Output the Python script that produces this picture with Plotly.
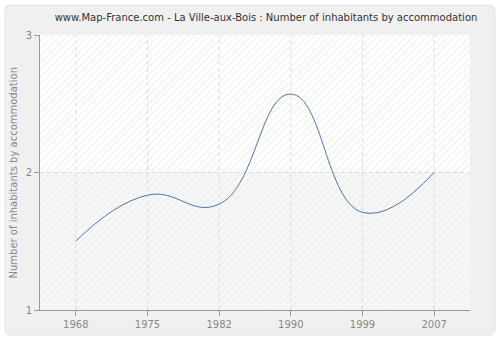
import plotly.graph_objects as go

years = ["1968", "1975", "1982", "1990", "1999", "2007"]
inhabitants = [1.5, 1.835, 1.77, 2.57, 1.71, 2.0]
y_ticks = [1, 2, 3]

xpos = list(range(len(years)))
x_lo, x_hi = -0.5, len(years) - 0.5
y_lo, y_hi = 1, 3

fig = go.Figure()

# hatched plot background, two tones split at the middle gridline
fig.add_trace(go.Scatter(
    x=[x_lo, x_hi, x_hi, x_lo, x_lo], y=[2, 2, y_hi, y_hi, 2],
    fill="toself", mode="none", fillcolor="#ffffff",
    fillpattern=dict(shape="/", fgcolor="#e6e6e6", bgcolor="#ffffff", size=5, solidity=0.3),
    hoverinfo="skip", showlegend=False))
fig.add_trace(go.Scatter(
    x=[x_lo, x_hi, x_hi, x_lo, x_lo], y=[y_lo, y_lo, 2, 2, y_lo],
    fill="toself", mode="none", fillcolor="#f7f7f7",
    fillpattern=dict(shape="/", fgcolor="#e8e8e8", bgcolor="#f7f7f7", size=5, solidity=0.3),
    hoverinfo="skip", showlegend=False))

# dashed gridlines drawn over the hatched background
grid = dict(color="#dddddd", width=1, dash="4px,3px")
for xv in xpos:
    fig.add_trace(go.Scatter(x=[xv, xv], y=[y_lo, y_hi], mode="lines", line=grid,
                             hoverinfo="skip", showlegend=False))
for yv in y_ticks[1:-1]:
    fig.add_trace(go.Scatter(x=[x_lo, x_hi], y=[yv, yv], mode="lines", line=grid,
                             hoverinfo="skip", showlegend=False))

fig.add_trace(go.Scatter(
    x=xpos, y=inhabitants, mode="lines",
    line=dict(color="#4a76ad", width=1, shape="spline", smoothing=1.3),
    showlegend=False))

font = "DejaVu Sans, Verdana, sans-serif"

W, H = 500, 340
pl, pr, pt, pb = 40, 30, 35, 30
pw, ph = W - pl - pr, H - pt - pb
def px(x):
    return (x - pl) / pw
def py(y):
    return (H - pb - y) / ph

fig.update_layout(
    width=W, height=H,
    margin=dict(l=pl, r=pr, t=pt, b=pb),
    paper_bgcolor="#ffffff",
    plot_bgcolor="rgba(0,0,0,0)",
    font=dict(family=font, size=10, color="#888888"),
    title=dict(text="www.Map-France.com - La Ville-aux-Bois : Number of inhabitants by accommodation",
               x=0.532, xanchor="center", y=0.95, yanchor="middle",
               font=dict(family=font, size=10, color="#333333")),
    xaxis=dict(range=[x_lo, x_hi], tickvals=xpos, ticktext=years,
               showgrid=False, automargin=False,
               showline=True, linecolor="#999999", linewidth=1,
               ticks="outside", ticklen=5, tickcolor="#999999",
               zeroline=False, fixedrange=True),
    yaxis=dict(range=[y_lo, y_hi], tickvals=y_ticks,
               showgrid=False, automargin=False,
               showline=True, linecolor="#999999", linewidth=1,
               ticks="outside", ticklen=5, tickcolor="#999999",
               zeroline=False, fixedrange=True),
    annotations=[dict(text="Number of inhabitants by accommodation",
                      xref="paper", yref="paper", x=px(13), y=0.5,
                      xanchor="center", yanchor="middle", textangle=-90,
                      showarrow=False, font=dict(family=font, size=10, color="#888888"))],
)

# rounded outer panel, placed in pixel space through paper coordinates
x0, x1, y0, y1, r = 5, 495, 5, 335, 6
path = (f"M {px(x0 + r)},{py(y0)} L {px(x1 - r)},{py(y0)} "
        f"Q {px(x1)},{py(y0)} {px(x1)},{py(y0 + r)} L {px(x1)},{py(y1 - r)} "
        f"Q {px(x1)},{py(y1)} {px(x1 - r)},{py(y1)} L {px(x0 + r)},{py(y1)} "
        f"Q {px(x0)},{py(y1)} {px(x0)},{py(y1 - r)} L {px(x0)},{py(y0 + r)} "
        f"Q {px(x0)},{py(y0)} {px(x0 + r)},{py(y0)} Z")
fig.update_layout(shapes=[dict(type="path", xref="paper", yref="paper", layer="below",
                               path=path, fillcolor="#f0f0f0",
                               line=dict(color="#e2e2e2", width=1))])

fig.write_html("out.html")
